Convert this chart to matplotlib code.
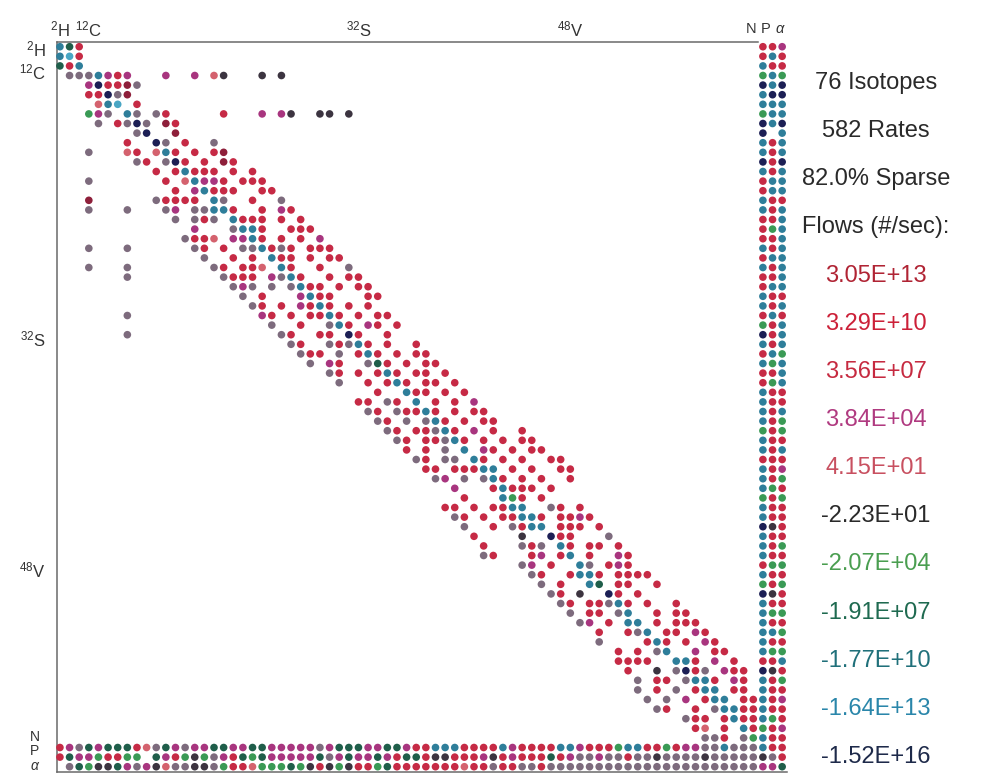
import matplotlib
matplotlib.use("Agg")
import matplotlib.pyplot as plt

plt.rcParams['font.family'] = ['Liberation Sans', 'DejaVu Sans']
plt.rcParams['mathtext.fontset'] = 'custom'
plt.rcParams['mathtext.rm'] = 'Liberation Sans'
plt.rcParams['mathtext.it'] = 'Liberation Sans:italic'

n_iso = 76

# dot colour codes (flow class of each matrix entry)
palette = {
    'r': '#c62a45',  # red
    'd': '#8e1f3a',  # dark red
    's': '#d4626e',  # salmon
    'm': '#a8357f',  # magenta
    'g': '#7d6b7d',  # grey-mauve
    'k': '#3c3440',  # near black
    'G': '#3a9a55',  # green
    'h': '#1f5e4a',  # dark green
    't': '#2e7e9a',  # teal
    'b': '#49a6c4',  # light blue
    'n': '#1c1f55',  # navy
}

# band of the jacobian: (row, first column, pattern), '.' = no entry
band_rows = [
    (0, 0, "thr"), (1, 0, "tbr"), (2, 0, "hrt"),
    (3, 1, "gggtmrm"), (3, 11, "m"), (3, 14, "m.sk"), (3, 21, "k.k"),
    (4, 3, "mnrrdg"), (5, 3, "rrngd"), (6, 4, "stb.r"),
    (7, 3, "Gmg.tg.gr"), (7, 17, "r"), (7, 21, "m.mk"), (7, 27, "kk.k"),
    (8, 4, "g.rgng.dr"), (9, 8, "gn..d"), (10, 7, "r..ng.r..g"),
    (11, 3, "g"), (11, 7, "sr.str.r.rd"),
    (12, 8, "gr.gnr.r.dr"), (13, 10, "r.rtrrr.r.r"),
    (14, 3, "g"), (14, 11, "r.stmmr.rrr"),
    (15, 12, "r.mtrrr..rr"),
    (16, 3, "d"), (16, 10, "grrrr.tg..r..g"),
    (17, 3, "g"), (17, 7, "g"), (17, 11, "gm.ggttr..r.mr"),
    (18, 12, "g.grg.trrr.r.r"), (19, 14, "m...gttr..rrr"),
    (20, 13, "grrs.mmtr.r.r.m"),
    (21, 3, "g"), (21, 7, "g"), (21, 14, "gr.r.ggtrgr.rrr"),
    (22, 15, "g..r.r.trr.r.rr"),
    (23, 3, "g"), (23, 7, "g"), (23, 16, "gr.rrs.tr..r..g"),
    (24, 7, "g"), (24, 17, "grrr.mgtr..r.rr"),
    (25, 18, "gmg.g.gtrr.r.rr"), (26, 19, "g.r...mtrr...rr"),
    (27, 20, "gr.r.mrtr.r.r"),
    (28, 7, "g"), (28, 21, "mr.r.rrtr.r.rr"),
    (29, 22, "g..r..gtr.mr.r"),
    (30, 7, "g"), (30, 23, "gr..rr.nr..r"),
    (31, 24, "gr..grgtr.r..r"), (32, 25, "grr.g.rtr.r.rr"),
    (33, 26, "g.mr..ghr.r.rr"), (34, 28, "gr.r.rtr.rr.r"),
    (35, 29, "g..r.rtr.rr.r"), (36, 33, "r..trr.r.r"),
    (37, 31, "rr.gr.t.r.r.m"), (38, 32, "gr.grrtr.r.rr"),
    (39, 33, "gr.g.gtr.r.rr"), (40, 34, "gr.rrgtr.m.r..r"),
    (41, 35, "gr.rrgtr.r.r.rr"), (42, 36, "r.r.g.t.mr.r.rr"),
    (43, 37, "gr.gg.tr.r.r..rr"), (44, 38, "rr.rrrtt.r.r..rr"),
    (45, 39, "gm.g.gtr.r.r..r"), (46, 41, "m...rtrrr.r"),
    (47, 42, "r...tGr.r"), (48, 40, "rr.r.rrtt..gr.r"),
    (49, 41, "gr.r.rrttr.rrmr"), (50, 42, "g..r.grtt.rrr.r"),
    (51, 43, "r....k..nrr...g"), (52, 44, "r...grg.tr.rr.r"),
    (53, 44, "gr...rm.rt.r..mr"), (54, 48, "gm.r..tg.rmr"),
    (55, 49, "gr..rttr.rrrr"), (56, 50, "g.r..th.rr..r"),
    (57, 51, "gr.k..nr.r"), (58, 52, "gr.rrgtr.r..r"),
    (59, 53, "g.rr.gt..r.rr"), (60, 54, "gm.r.tt.r.rrr"),
    (61, 56, "r..rgt.rr.mr"), (62, 56, "g....rtr.r.mr"),
    (63, 58, "r.r.gt..m.rr"), (64, 58, "rrrr..ttr.m.r"),
    (65, 59, "r..k.gnrg.mrr"), (66, 60, "g.rr.gttr.mr"),
    (67, 60, "g.r.g.rtt.rr"), (68, 61, "g.g.m.rtt.rr"),
    (69, 62, "gr..r.gttrr"), (70, 65, "grr.rtrr"),
    (71, 66, "rs.r.tr"), (72, 67, "ggr.gG"),
]

# full N, P, alpha columns (rows 0-75)
n_col = "rrtGnttGnn" "ttntrrttrr" "rtrtrrttrG" "ntrtrrtttt" "GttrtttGtt" "ntttrtGntt" "ttttrntttt" "tGttkm"
p_col = "rtrttnttt." "rrrrttrrrG" "rrtrrtrrtr" "rrtGrGrrrr" "rrrrrrGrrr" "krrrGrrkrG" "rtrGrkrrrr" "Grrrgm"
a_col = "mrrGnnttnt" "ttntttrttt" "ttttttrtrt" "ttGtttrrtG" "GrtrmGrGrr" "rrGrGrGrrG" "rGrGtrGrmr" "rmrrrh"

# full N, P, alpha rows (columns 0-72)
n_row = "rmghmhhhrs" "ghmgmmhhmm" "hhmmmmmgmh" "hhmmhhmrr" "tttrrrrtmrrrrttmrrrGttrrGrmmggtggg"
p_row = "rhmmGrrGG." "hmrGkGgmrh" "Ghmmmmmhgm" "hmmhmrhhr" "kkrrrmkrmr" "rrhrmggmgg" "rggkggggkg" "gggg"
a_row = ".ghGkkhmgm" "ksggkkgGrr" "sGGGhGkrkG" "krrGhrrrr" "rrrsrrgrrg" "grgggggggg" "gggggggggg" "gggg"

# isotope labels: (text, index)
top_labels = [(r'$^{2}$H', 0), (r'$^{12}$C', 3), (r'$^{32}$S', 31), (r'$^{48}$V', 53)]
left_labels = [(r'$^{2}$H', 0.3), (r'$^{12}$C', 2.7), (r'$^{32}$S', 30.5), (r'$^{48}$V', 54.6)]
npa_labels = ['N', 'P', r'$\alpha$']
npa_top_cols = [71.8, 73.3, 74.8]
npa_left_rows = [71.9, 73.4, 74.9]

summary_lines = ['76 Isotopes', '582 Rates', '82.0% Sparse', 'Flows (#/sec):']
flow_values = ['3.05E+13', '3.29E+10', '3.56E+07', '3.84E+04', '4.15E+01', '-2.23E+01',
               '-2.07E+04', '-1.91E+07', '-1.77E+10', '-1.64E+13', '-1.52E+16']
flow_colors = ['#b02434', '#cc2038', '#c62a40', '#b03a80', '#c85060', '#2a2a2a',
               '#4a9e50', '#1f6a50', '#20707a', '#2a86aa', '#1e2a4a']

# collect the dots
rows, cols, cols_c = [], [], []
for r, c0, pat in band_rows:
    for i, ch in enumerate(pat):
        if ch != '.':
            rows.append(r)
            cols.append(c0 + i)
            cols_c.append(palette[ch])
for j, col_str in enumerate([n_col, p_col, a_col]):
    for r, ch in enumerate(col_str):
        if ch != '.':
            rows.append(r)
            cols.append(73 + j)
            cols_c.append(palette[ch])
for j, row_str in enumerate([n_row, p_row, a_row]):
    for c, ch in enumerate(row_str):
        if ch != '.':
            rows.append(73 + j)
            cols.append(c)
            cols_c.append(palette[ch])

fig = plt.figure(figsize=(9.82, 7.82), dpi=100)
ax = fig.add_axes([0.0576, 0.0128, 0.7438, 0.9336])
ax.set_xlim(-0.35, 75.5)
ax.set_ylim(75.55, -0.5)
for sp in ax.spines.values():
    sp.set_visible(False)
ax.set_xticks([])
ax.set_yticks([])

frame = dict(color='#6a6a6a', lw=1.1, clip_on=False, zorder=1)
ax.plot([-0.35, 72.5], [-0.5, -0.5], **frame)
ax.plot([-0.35, -0.35], [-0.5, 75.55], **frame)
ax.plot([-0.35, 75.5], [75.55, 75.55], **frame)

ax.scatter(cols, rows, c=cols_c, s=30, linewidths=0, clip_on=False, zorder=3)

for txt, c in top_labels:
    ax.text(c, -1.85, txt, ha='center', va='center', fontsize=12, color='#333333', clip_on=False)
for txt, r in left_labels:
    ax.text(-1.5, r, txt, ha='right', va='center', fontsize=12, color='#333333', clip_on=False)
for j, txt in enumerate(npa_labels):
    ax.text(npa_top_cols[j], -1.85, txt, ha='center', va='center', fontsize=10.5,
            color='#333333', clip_on=False)
    ax.text(-2.6, npa_left_rows[j], txt, ha='center', va='center', fontsize=10,
            color='#333333', clip_on=False)

x_txt = 876 / 982
y0, dy = 83, 48.14
for i, txt in enumerate(summary_lines):
    fig.text(x_txt, 1 - (y0 + i * dy) / 782, txt, ha='center', va='center', fontsize=17, color='#2a2a2a')
for i, (txt, col) in enumerate(zip(flow_values, flow_colors)):
    k = i + len(summary_lines)
    fig.text(x_txt, 1 - (y0 + k * dy) / 782, txt, ha='center', va='center', fontsize=17, color=col)

fig.savefig('out.png', dpi=100)
